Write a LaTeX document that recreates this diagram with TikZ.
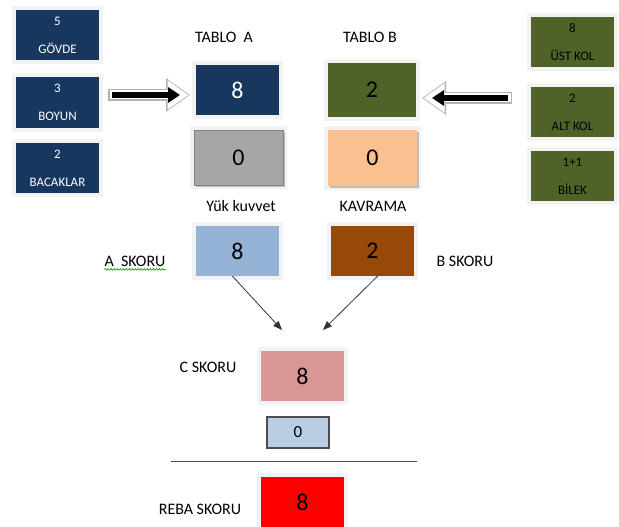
\documentclass[tikz,border=0pt]{standalone}
\usepackage{fontspec}
\setmainfont{Carlito}
\usetikzlibrary{arrows.meta,shadows,decorations.pathmorphing}

\definecolor{koyumavi}{HTML}{17375E}
\definecolor{zeytin}{HTML}{4F6228}
\definecolor{gri}{HTML}{A6A6A6}
\definecolor{seftali}{HTML}{FAC090}
\definecolor{acikmavi}{HTML}{95B3D7}
\definecolor{kahve}{HTML}{984807}
\definecolor{pembe}{HTML}{D99694}
\definecolor{bozmavi}{HTML}{B9CDE5}
\definecolor{cerceve}{HTML}{F2F2F2}

\begin{document}
\begin{tikzpicture}[x=1pt,y=-1pt,
    kutu/.style={preaction={draw=cerceve, line width=8pt}, minimum width=83pt,
        minimum height=50pt, inner sep=0pt, font=\fontsize{24}{28}\selectfont},
    kucuk/.style={kutu, align=center, font=\fontsize{13}{15}\selectfont},
    golge/.style={drop shadow={shadow xshift=1.5pt, shadow yshift=-1.5pt,
        fill=black!45, opacity=.5}},
    etiket/.style={inner sep=0pt, font=\fontsize{16}{18}\selectfont},
    blokok/.style={line width=6pt, -{Triangle[length=12pt,width=15pt]},
        preaction={draw=black!30, line width=12pt, shorten >=-10pt, shorten <=-4pt,
            -{Triangle[length=24pt,width=32pt]}},
        preaction={draw=white, line width=9pt, shorten >=-8.5pt, shorten <=-2.5pt,
            -{Triangle[length=21pt,width=28pt]}}},
    ok/.style={-{Triangle[length=9pt,width=7pt]}, black!80, line width=0.8pt}]
\useasboundingbox (0,0) rectangle (619,527);
\clip (0,0) rectangle (619,527);

% sol girdiler
\node[kucuk, fill=koyumavi, text=white] (govde) at (57.5,35.5) {5\\[13pt]GÖVDE};
\node[kucuk, fill=koyumavi, text=white] (boyun) at (57.5,102.5) {3\\[13pt]BOYUN};
\node[kucuk, fill=koyumavi, text=white] (bacak) at (57.5,168) {2\\[13pt]BACAKLAR};

% sag girdiler
\node[kucuk, fill=zeytin] (ustkol) at (572.5,42.5) {8\\[13pt]ÜST KOL};
\node[kucuk, fill=zeytin] (altkol) at (572.5,112) {2\\[13pt]ALT KOL};
\node[kucuk, fill=zeytin] (bilek) at (572.5,176) {1+1\\[13pt]BİLEK};

% tablolar
\node[etiket] (tablAyazi) at (224,37) {TABLO \ A};
\node[etiket] (tablByazi) at (370,37) {TABLO B};
\node[kutu, fill=koyumavi, text=white] (tabloA) at (237.5,90) {8};
\node[kutu, fill=zeytin, minimum width=88pt, minimum height=54pt,
    preaction={draw=none}] (tabloB) at (372,90) {2};
\node[kutu, fill=gri, draw=black!50, golge, minimum width=89pt, minimum height=55pt,
    preaction={draw=none}] (yuk) at (238.5,157.5) {0};
\node[kutu, fill=seftali, golge, minimum width=89pt, minimum height=56pt,
    preaction={draw=none}] (kavrama) at (372.5,158) {0};

% blok oklar
\coordinate (solbas) at (112,95);
\coordinate (solson) at (180,95);
\coordinate (sagbas) at (508,98);
\coordinate (sagson) at (432,98);
\draw[blokok] (solbas) -- (solson);
\draw[blokok] (sagbas) -- (sagson);

% skorlar
\node[etiket] (yukyazi) at (241,206) {Yük kuvvet};
\node[etiket] (kavyazi) at (373,206) {KAVRAMA};
\node[etiket] (askoryazi) at (135,261) {A\ \ SKORU};
\node[etiket] (bskoryazi) at (465,261) {B SKORU};
\node[kutu, fill=acikmavi] (askor) at (237.5,251) {8};
\node[kutu, fill=kahve] (bskor) at (372.5,251) {2};
\draw[green!55!black, line width=0.6pt, decorate,
    decoration={snake, amplitude=0.8pt, segment length=3pt}]
    ([yshift=-3pt]askoryazi.south west) -- ([yshift=-3pt]askoryazi.south east);

\coordinate (c1) at (282,330);
\coordinate (c2) at (323,330);
\draw[ok] ([xshift=-5pt]askor.south) -- (c1);
\draw[ok] ([xshift=5pt]bskor.south) -- (c2);

% C ve REBA skoru
\node[etiket] (cskoryazi) at (208,367) {C SKORU};
\node[kutu, fill=pembe] (cskor) at (302.5,376) {8};
\node[draw=black!70, line width=1.2pt, fill=bozmavi, minimum width=62pt,
    minimum height=31pt, inner sep=0pt, font=\fontsize{17}{20}\selectfont]
    (aktivite) at (298,432.5) {0};
\coordinate (cizgi1) at (171,461);
\coordinate (cizgi2) at (417,461);
\draw[black!70, line width=1pt] (cizgi1) -- (cizgi2);
\node[etiket] (rebayazi) at (200,509) {REBA SKORU};
\node[kutu, fill=red] (reba) at (302.5,502) {8};
\end{tikzpicture}
\end{document}
